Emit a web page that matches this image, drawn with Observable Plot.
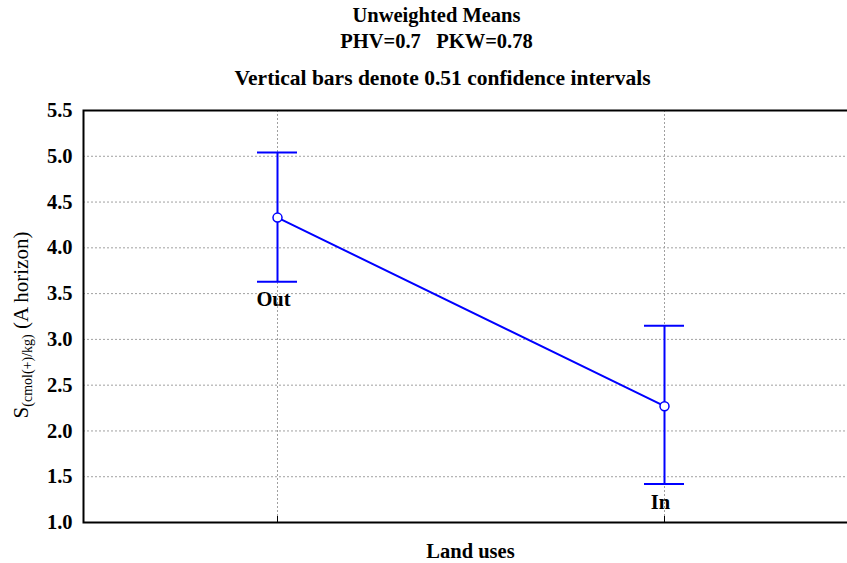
<!DOCTYPE html>
<html>
<head>
<meta charset="utf-8">
<script src="https://cdn.jsdelivr.net/npm/d3@7"></script>
<script src="https://cdn.jsdelivr.net/npm/@observablehq/plot@0.6"></script>
<style>
  html, body { margin: 0; padding: 0; background: white; }
  #chart { width: 847px; height: 563px; overflow: hidden; }
</style>
</head>
<body>
<div id="chart"></div>
<script>
// Data
const categories = ["Out", "In"];
const means = [4.33, 2.27];
const lower = [3.63, 1.42];
const upper = [5.04, 3.15];
const yTicks = [1.0, 1.5, 2.0, 2.5, 3.0, 3.5, 4.0, 4.5, 5.0, 5.5];
const titleLines = ["Unweighted Means", "PHV=0.7   PKW=0.78", "Vertical bars denote 0.51 confidence intervals"];
const xLabel = "Land uses";

const data = categories.map((c, i) => ({cat: c, mean: means[i], lo: lower[i], hi: upper[i]}));
const blue = "#0000ff";
const serif = "'Liberation Serif', 'Times New Roman', serif";

const plot = Plot.plot({
  width: 847,
  height: 563,
  marginTop: 110,
  marginBottom: 41,
  marginLeft: 83,
  marginRight: -10,
  style: {fontFamily: serif, background: "white", overflow: "visible"},
  x: {type: "point", domain: categories, padding: 0.5, label: null},
  y: {domain: [1, 5.5], label: null},
  marks: [
    Plot.gridY(yTicks.filter(d => d > 1 && d < 5.5), {stroke: "#a0a0a0", strokeOpacity: 1, strokeDasharray: "2,2"}),
    Plot.gridX(categories, {stroke: "#a0a0a0", strokeOpacity: 1, strokeDasharray: "2,2"}),
    Plot.axisY(yTicks, {tickSize: 0, tickPadding: 11, tickFormat: d3.format(".1f"), fontSize: 20.5, fontWeight: "bold", fill: "black", label: null}),
    Plot.axisX(categories, {tickSize: -6, tickFormat: () => "", label: null, stroke: "black"}),
    Plot.frame({stroke: "black", strokeWidth: 2}),
    Plot.line(data, {x: "cat", y: "mean", stroke: blue, strokeWidth: 2}),
    Plot.ruleX(data, {x: "cat", y1: "lo", y2: "hi", stroke: blue, strokeWidth: 2}),
    Plot.ruleY(data, {x1: "cat", x2: "cat", y: "hi", insetLeft: -20, insetRight: -20, stroke: blue, strokeWidth: 2}),
    Plot.ruleY(data, {x1: "cat", x2: "cat", y: "lo", insetLeft: -20, insetRight: -20, stroke: blue, strokeWidth: 2}),
    Plot.dot(data, {x: "cat", y: "mean", r: 4.5, fill: "white", stroke: blue, strokeWidth: 1.5}),
    Plot.text(data, {x: "cat", y: "lo", text: "cat", dy: 18, dx: -4, fontSize: 20.5, fontWeight: "bold", fill: "black"}),
    Plot.text([titleLines[0]], {frameAnchor: "top", lineAnchor: "bottom", dx: -34, dy: -89, fontSize: 20.5, fontWeight: "bold", fill: "black"}),
    Plot.text([titleLines[1]], {frameAnchor: "top", lineAnchor: "bottom", dx: -34, dy: -63, fontSize: 20.5, fontWeight: "bold", fill: "black"}),
    Plot.text([titleLines[2]], {frameAnchor: "top", lineAnchor: "bottom", dx: -28, dy: -26, fontSize: 21.5, fontWeight: "bold", fill: "black"}),
    Plot.text([xLabel], {frameAnchor: "bottom", lineAnchor: "bottom", dy: 35, fontSize: 20.5, fontWeight: "bold", fill: "black"})
  ]
});

document.getElementById("chart").appendChild(plot);

// Y-axis label with subscript
const svg = d3.select(plot);
const yl = svg.append("text")
  .attr("transform", "translate(28,325) rotate(-90)")
  .attr("text-anchor", "middle")
  .attr("font-family", serif)
  .attr("font-size", 21)
  .attr("fill", "black");
yl.append("tspan").text("S");
yl.append("tspan").attr("font-size", 14).attr("dy", 4).text("(cmol(+)/kg)");
yl.append("tspan").attr("dy", -4).text(" (A horizon)");
</script>
</body>
</html>
